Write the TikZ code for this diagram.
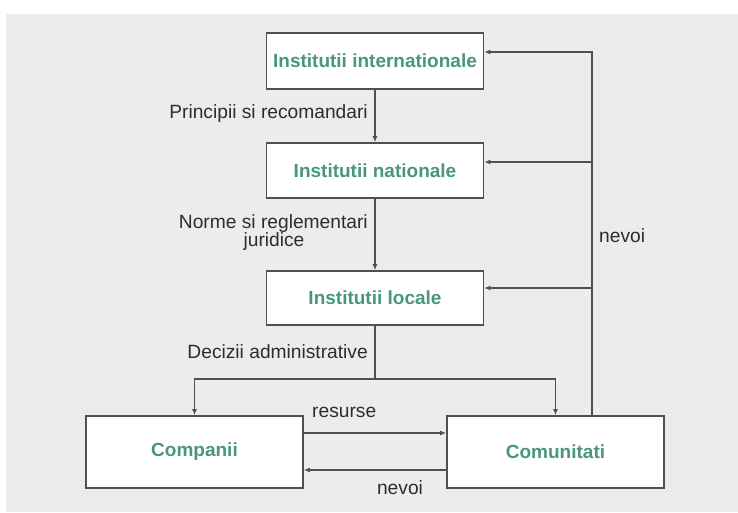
\documentclass[tikz,border=0pt]{standalone}
\usepackage{fontspec}
\setmainfont{Liberation Sans}
\usetikzlibrary{arrows.meta}
\definecolor{bggray}{RGB}{238,235,236}
\definecolor{titlegreen}{RGB}{72,150,128}
\definecolor{linegray}{RGB}{80,80,80}
\definecolor{labelgray}{RGB}{45,45,45}
\begin{document}
\begin{tikzpicture}[x=1pt,y=-1pt,
  box/.style={draw=linegray, line width=1.6pt, fill=white, minimum width=217pt, inner sep=0pt,
    font=\fontsize{19}{20}\selectfont\bfseries, text=titlegreen},
  lbl/.style={inner sep=0pt, font=\fontsize{19.2}{20}\selectfont, text=labelgray},
  conn/.style={draw=linegray, line width=1.3pt},
  arr/.style={conn, -{Latex[length=6pt,width=5pt]}}]
\useasboundingbox (0,0) rectangle (738,512);
\fill[white] (0,0) rectangle (738,512);
\fill[bggray] (6,14) rectangle (738,512);

\node[box, minimum height=56pt] (b1) at (375,61) {Institutii internationale};
\node[box, minimum height=55pt] (b2) at (375,170.5) {Institutii nationale};
\node[box, minimum height=54pt] (b3) at (375,298) {Institutii locale};
\node[box, minimum height=72pt] (comp) at (194.5,452) {Companii};
\node[box, minimum height=72pt] (comu) at (555.5,452) {Comunitati};

\node[lbl, anchor=east] (l1) at (368,114) {Principii si recomandari};
\node[lbl, anchor=east] (l2) at (368,224) {Norme si reglementari};
\node[lbl] (l2b) at (274,242) {juridice};
\node[lbl, anchor=east] (l3) at (368,352) {Decizii administrative};
\node[lbl, anchor=west] (l4) at (312,412) {resurse};
\node[lbl] (l5) at (400,488) {nevoi};
\node[lbl, anchor=west] (l6) at (599,236) {nevoi};

\coordinate (split) at (375,379);
\coordinate (rtop) at (592,52);
\coordinate (r2) at (592,162);
\coordinate (r3) at (592,288);
\coordinate (ya) at (0,433);
\coordinate (yb) at (0,470);

\draw[arr] (b1.south) -- (b2.north);
\draw[arr] (b2.south) -- (b3.north);
\draw[conn] (b3.south) -- (split);
\draw[arr] (split) -| (comp.north);
\draw[arr] (split) -| (comu.north);
\draw[arr] (comu.north -| rtop) -- (rtop) -- (b1.east |- rtop);
\draw[arr] (r2) -- (b2.east |- r2);
\draw[arr] (r3) -- (b3.east |- r3);
\draw[arr] (comp.east |- ya) -- (comu.west |- ya);
\draw[arr] (comu.west |- yb) -- (comp.east |- yb);
\end{tikzpicture}
\end{document}
